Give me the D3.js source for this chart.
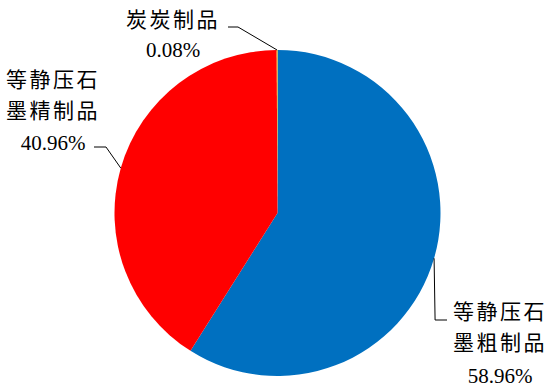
<!DOCTYPE html>
<html>
<head>
<meta charset="utf-8">
<script src="https://d3js.org/d3.v7.min.js"></script>
<style>
  body { margin: 0; background: #fff; }
</style>
</head>
<body>
<svg width="549" height="389"></svg>
<script>
// data
var names = ["等静压石墨粗制品", "等静压石墨精制品", "炭炭制品"];
var values = [58.96, 40.96, 0.08];
var colors = ["#0070C0", "#FF0000", "#FFC000"];

// label layout: lines, centre x, baselines
var labelLines = [["等静压石", "墨粗制品", "58.96%"], ["等静压石", "墨精制品", "40.96%"], ["炭炭制品", "0.08%"]];
var labelX = [500, 53, 173];
var labelY = [[319, 350, 383], [87, 118, 150], [27, 57]];

var svg = d3.select("svg"),
    cx = 277.5, cy = 213, r = 163;

var g = svg.append("g").attr("transform", "translate(" + cx + "," + cy + ")");

var pie = d3.pie().sort(null).value(function(d) { return d; });
var arcs = pie(values);
var arc = d3.arc().innerRadius(0).outerRadius(r);

g.selectAll("path")
  .data(arcs)
  .enter().append("path")
    .attr("d", arc)
    .attr("fill", function(d, i) { return colors[i]; });

// point on the rim at the middle of a slice
function rim(d) {
  var a = (d.startAngle + d.endAngle) / 2;
  return [cx + r * Math.sin(a), cy - r * Math.cos(a)];
}

// leader lines
var p0 = rim(arcs[0]), p1 = rim(arcs[1]), p2 = rim(arcs[2]);
var leaders = [
  [p0, [p0[0] + 1, 320], [447, 320]],
  [p1, [106, 147], [94, 147]],
  [p2, [238, 27], [228, 27]]
];
svg.selectAll("polyline")
  .data(leaders)
  .enter().append("polyline")
    .attr("points", function(d) { return d.map(function(p) { return p.join(","); }).join(" "); })
    .attr("fill", "none")
    .attr("stroke", "#000")
    .attr("stroke-width", 1);

// labels, one text per line
labelLines.forEach(function(lines, i) {
  lines.forEach(function(s, j) {
    var num = /%/.test(s);
    svg.append("text")
      .attr("x", labelX[i])
      .attr("y", labelY[i][j])
      .attr("text-anchor", "middle")
      .attr("font-size", 21)
      .attr("fill", "#000")
      .style("font-family", num ? "'Liberation Serif', serif" : "'Liberation Serif', 'Noto Sans CJK SC', serif")
      .style("letter-spacing", num ? "0px" : "2.5px")
      .text(s);
  });
});
</script>
</body>
</html>
